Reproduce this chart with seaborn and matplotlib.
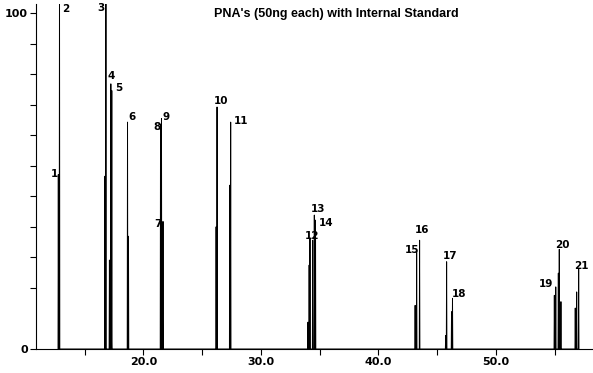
import matplotlib
matplotlib.use("Agg")
import matplotlib.pyplot as plt
import pandas as pd
import seaborn as sns

# labelled peaks: number, retention time (min), height (% of full scale)
peak_numbers = [str(i) for i in range(1, 22)]
peak_times = [12.75, 12.85, 16.80, 17.22, 17.30, 18.64, 21.66, 21.45, 21.53, 26.26,
              27.42, 34.17, 34.54, 34.64, 43.25, 43.50, 45.80, 46.30, 55.09, 55.39, 57.04]
peak_heights = [52, 110, 110, 79, 77, 67.6, 38, 67, 68.7, 72.1,
                67.6, 33, 39.9, 38.4, 29.3, 32.4, 26, 15.1, 18.5, 29.7, 24]

# unlabelled shoulders / co-eluting spikes
shoulder_times = [16.72, 17.10, 17.26, 18.72, 21.60, 26.18, 27.34, 34.00, 34.10,
                  34.40, 43.12, 45.72, 46.22, 54.97, 55.31, 55.53, 56.75, 56.87]
shoulder_heights = [51.5, 26.5, 7, 33.6, 34, 36.4, 48.8, 8, 25,
                    32.4, 13, 4, 11.1, 16, 22.6, 14.1, 12.2, 17]

title = "PNA's (50ng each) with Internal Standard"
x_major = [20, 30, 40, 50]
x_minor = [15, 25, 35, 45, 55]

# label offsets from the apex, in pixels (left edge / baseline of text)
label_offsets = {
    "1": (-8, -3), "2": (2.5, -32.6), "3": (-9, -31.6), "4": (-3, 5), "5": (3, 0),
    "6": (1, 2), "7": (-9, -6), "8": (-7, -6), "9": (1, -2), "10": (-3, 3),
    "11": (3, -2), "12": (-5, -1), "13": (-4, 3), "14": (3, -6), "15": (-12, -2),
    "16": (-5, 7), "17": (-4, 3), "18": (-1, 1), "19": (-17, 0), "20": (-4, 1),
    "21": (-5, -1),
}

# build the trace: each spike goes baseline -> apex -> baseline
spikes = sorted(zip(peak_times + shoulder_times, peak_heights + shoulder_heights))
hw = 0.025
rows = []
for t, h in spikes:
    rows += [(t - hw, 0.0), (t, h), (t + hw, 0.0)]
trace = pd.DataFrame(rows, columns=["time", "signal"])

sns.set_style("ticks")
plt.rcParams["font.family"] = ["DejaVu Sans"]
plt.rcParams["font.weight"] = "bold"
for key in ["text.color", "axes.edgecolor", "xtick.color", "ytick.color", "axes.labelcolor"]:
    plt.rcParams[key] = "black"

fig = plt.figure(figsize=(5.93, 3.73), dpi=100)
ax = fig.add_axes([36 / 593, 24 / 373, 557 / 593, 345 / 373])

sns.lineplot(data=trace, x="time", y="signal", sort=False, estimator=None,
             color="black", linewidth=0.7, ax=ax)

for num, t, h in zip(peak_numbers, peak_times, peak_heights):
    dx, dy = label_offsets[num]
    ax.annotate(num, xy=(t, h), xytext=(dx, dy), textcoords="offset pixels",
                ha="left", va="baseline", fontsize=7.5, fontweight="bold",
                annotation_clip=False)

ax.set_xlim(10.85, 58.26)
ax.set_ylim(0, 102.8)
ax.set_xticks(x_major)
ax.set_xticklabels([f"{v:.1f}" for v in x_major])
ax.set_xticks(x_minor, minor=True)
yt = [0] + [100 * k / 11 for k in range(2, 12)]
ax.set_yticks(yt)
ax.set_yticklabels(["0"] + [""] * 9 + ["100"])
ax.tick_params(which="both", length=4, width=0.8, labelsize=8, pad=2)
ax.set_xlabel("")
ax.set_ylabel("")
for s in ["top", "right"]:
    ax.spines[s].set_visible(False)
for s in ["left", "bottom"]:
    ax.spines[s].set_linewidth(0.8)

fig.text(214 / 593, (373 - 17) / 373, title, ha="left", va="baseline",
         fontsize=9, fontweight="bold", family=["Liberation Sans"])

fig.savefig("out.png", dpi=100)
